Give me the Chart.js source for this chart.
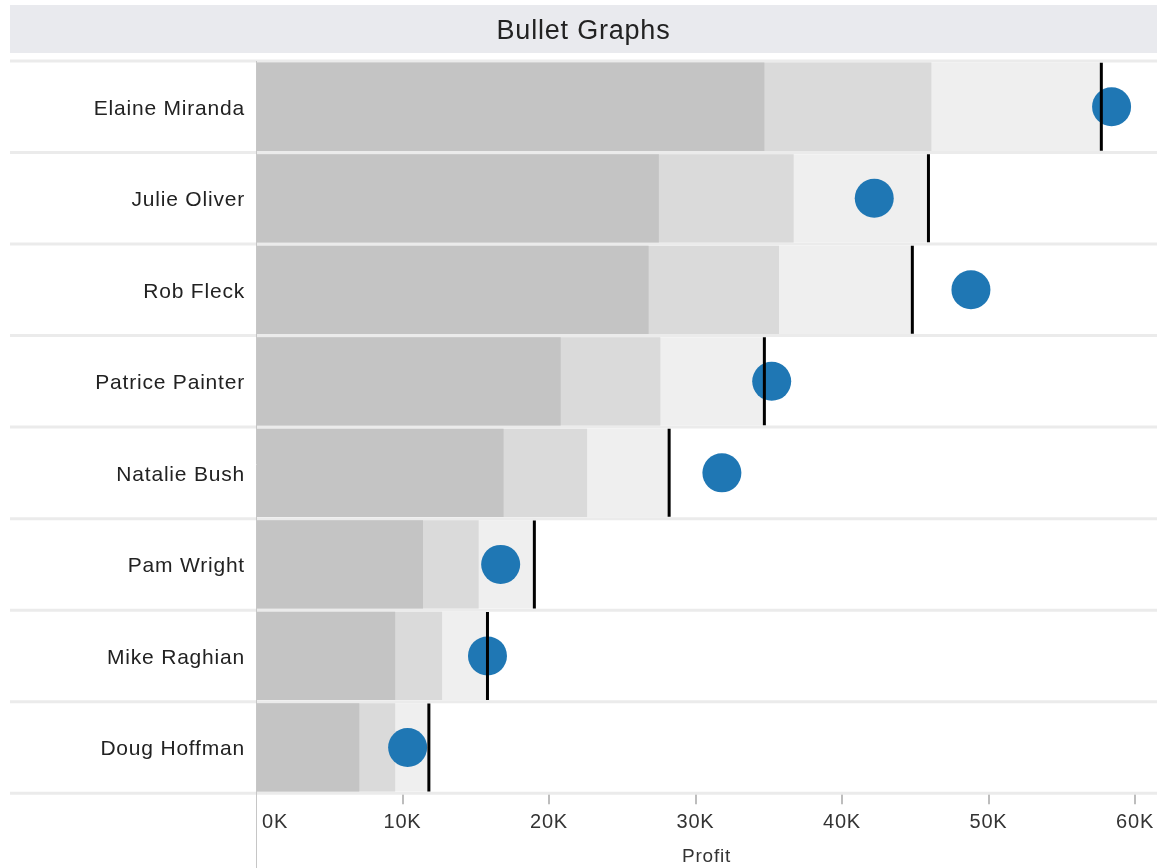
<!DOCTYPE html>
<html>
<head>
<meta charset="utf-8">
<title>Bullet Graphs</title>
<script src="https://cdn.jsdelivr.net/npm/chart.js@4"></script>
<style>
  html, body { margin: 0; padding: 0; background: #fff; }
  #wrap { width: 1157px; height: 868px; }
</style>
</head>
<body>
<div id="wrap"><canvas id="grafico"></canvas></div>
<script>
// valores em milhares (K)
const nomes = ['Elaine Miranda', 'Julie Oliver', 'Rob Fleck', 'Patrice Painter',
  'Natalie Bush', 'Pam Wright', 'Mike Raghian', 'Doug Hoffman'];
const faixa1 = [34.7, 27.5, 26.8, 20.8, 16.9, 11.4, 9.5, 7.05];
const faixa2 = [46.1, 36.7, 35.7, 27.6, 22.6, 15.2, 12.7, 9.5];
const meta = [57.7, 45.9, 44.8, 34.7, 28.2, 19.0, 15.8, 11.8];
const lucro = [58.4, 42.2, 48.8, 35.2, 31.8, 16.7, 15.8, 10.35];
const ticksX = [0, 10, 20, 30, 40, 50, 60];

const fonte = "'Liberation Sans', Arial, sans-serif";

// fundo do titulo, linhas separadoras e linha do eixo
const fundoPlugin = {
  id: 'fundo',
  beforeDraw(chart) {
    const ctx = chart.ctx;
    const t = chart.titleBlock;
    ctx.save();
    ctx.fillStyle = '#e9eaee';
    ctx.fillRect(t.left, t.top, t.width, 48);
    ctx.restore();
    ctx.letterSpacing = '0.8px';
  },
  beforeDatasetsDraw(chart) {
    const ctx = chart.ctx;
    const y = chart.scales.y;
    ctx.save();
    ctx.strokeStyle = '#ebebeb';
    ctx.lineWidth = 3;
    for (let i = 0; i <= nomes.length; i++) {
      const py = y.getPixelForValue(i - 0.5);
      ctx.beginPath();
      ctx.moveTo(10, py);
      ctx.lineTo(chart.width, py);
      ctx.stroke();
    }
    ctx.restore();
  },
  afterDatasetsDraw(chart) {
    const ctx = chart.ctx;
    const x0 = Math.round(chart.scales.x.getPixelForValue(0)) + 0.5;
    ctx.save();
    ctx.strokeStyle = '#c6c6c6';
    ctx.lineWidth = 1;
    ctx.beginPath();
    ctx.moveTo(x0, chart.chartArea.top);
    ctx.lineTo(x0, chart.height);
    ctx.stroke();
    ctx.restore();
  }
};

const ctx = document.getElementById('grafico').getContext('2d');
new Chart(ctx, {
  type: 'bar',
  data: {
    labels: nomes,
    datasets: [
      {
        type: 'line',
        label: 'Meta',
        data: meta,
        showLine: false,
        pointStyle: 'line',
        pointRotation: 90,
        pointRadius: 44,
        pointBorderWidth: 3,
        pointBorderColor: '#000',
        borderColor: '#000',
        order: 0
      },
      {
        type: 'line',
        label: 'Profit',
        data: lucro,
        showLine: false,
        pointRadius: 19.5,
        pointBorderWidth: 0,
        pointBackgroundColor: '#1f77b4',
        borderColor: '#1f77b4',
        order: 1
      },
      { label: 'Faixa 1', data: faixa1, backgroundColor: '#c4c4c4', order: 2 },
      { label: 'Faixa 2', data: faixa2, backgroundColor: '#dadada', order: 3 },
      { label: 'Faixa 3', data: meta, backgroundColor: '#efefef', order: 4 }
    ]
  },
  options: {
    indexAxis: 'y',
    responsive: true,
    maintainAspectRatio: false,
    animation: false,
    grouped: false,
    categoryPercentage: 1,
    barPercentage: 0.965,
    layout: { autoPadding: false, padding: { left: 10, top: 5, right: 0, bottom: 0 } },
    plugins: {
      legend: { display: false },
      tooltip: { enabled: false },
      title: {
        display: true,
        text: 'Bullet Graphs',
        color: '#222',
        font: { family: fonte, size: 27, weight: 'normal' },
        lineHeight: 1.2,
        padding: { top: 10, bottom: 13.6 }
      }
    },
    scales: {
      x: {
        type: 'linear',
        min: 0,
        max: 61.5,
        afterBuildTicks(scale) {
          scale.ticks = ticksX.map(v => ({ value: v }));
        },
        afterFit(scale) {
          scale.paddingLeft = 0;
          scale.paddingRight = 0;
        },
        ticks: {
          callback: v => (v === 0 ? '      0K' : v + 'K'),
          color: '#333',
          padding: 6,
          maxRotation: 0,
          font: { family: fonte, size: 20 }
        },
        grid: {
          drawOnChartArea: false,
          drawTicks: true,
          tickLength: 11,
          color: ctx => (ctx.tick && ctx.tick.value === 0 ? 'rgba(0,0,0,0)' : '#bdbdbd'),
          lineWidth: 2
        },
        border: { display: false },
        title: {
          display: true,
          text: 'Profit',
          color: '#333',
          font: { family: fonte, size: 19 },
          padding: { top: 5, bottom: 0 }
        }
      },
      y: {
        afterFit(scale) { scale.width = 246; },
        ticks: {
          color: '#222',
          padding: 11,
          labelOffset: 2,
          font: { family: fonte, size: 21 }
        },
        grid: { display: false, drawTicks: false },
        border: { display: false }
      }
    }
  },
  plugins: [fundoPlugin]
});
</script>
</body>
</html>
